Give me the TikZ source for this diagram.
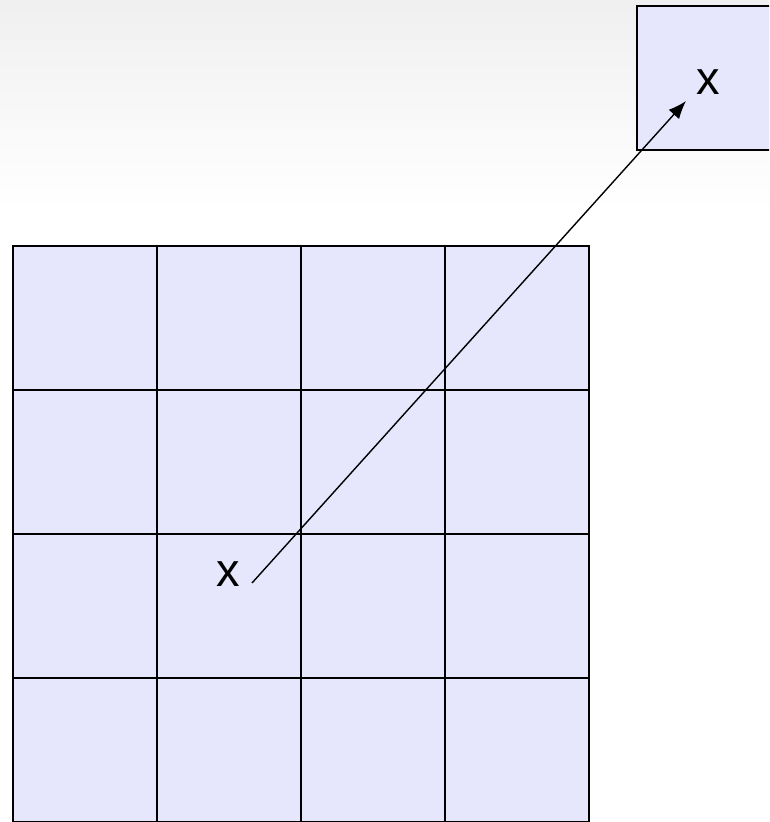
\documentclass[tikz,border=0pt]{standalone}
\usepackage{fontspec}
\setmainfont{Liberation Sans}
\usepackage{tikz}
\usetikzlibrary{positioning,arrows.meta}
\definecolor{cellfill}{RGB}{230,230,252}
\tikzset{
  cellbox/.style={draw=black, line width=1.8pt, fill=cellfill, rectangle,
    minimum width=144pt, minimum height=144pt, inner sep=0pt,
    anchor=north west},
  xlabel/.style={font=\fontsize{47}{50}\selectfont, inner sep=0pt},
  flow/.style={-{Latex[length=18pt, width=14pt]}, line width=1.4pt, draw=black},
}
\begin{document}
\begin{tikzpicture}[x=1pt,y=-1pt]
\useasboundingbox (0,0) rectangle (769,822);
\clip (0,0) rectangle (769,822);
% soft backdrop at the top
\shade[top color=black!6, bottom color=white] (0,0) rectangle (769,210);
% the 4x4 grid
\foreach \i in {0,...,3}{
  \foreach \j in {0,...,3}{
    \node[cellbox] (cell-\i-\j) at ({12+144*\i},{245+144*\j}) {};
  }
}
% the single box, cut by the right edge
\node[cellbox] (target) at (636,5) {};
% labels
\node[xlabel] (src) at (228,574) {x};
\node[xlabel] (dst) at (708,82) {x};
% the arrow
\coordinate (tail) at (252,583);
\coordinate (head) at (686,101);
\draw[flow] (tail) -- (head);
\end{tikzpicture}
\end{document}
